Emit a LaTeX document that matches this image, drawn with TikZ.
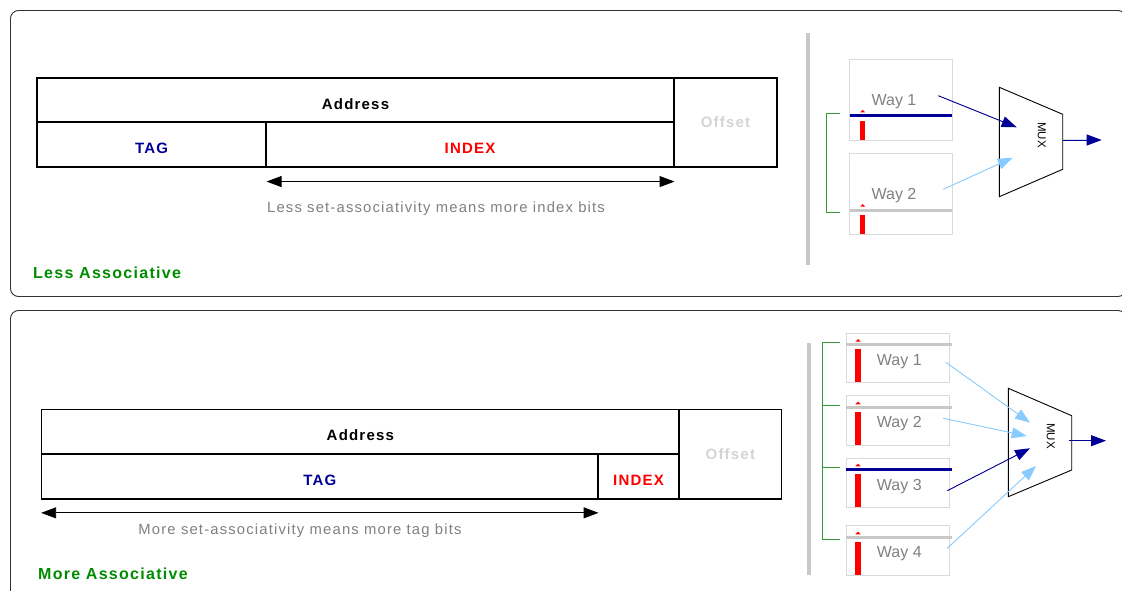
\documentclass[tikz,border=0pt]{standalone}
\usepackage{fontspec}
\setmainfont{Liberation Sans}[LetterSpace=8]
\newfontfamily\wayfont{Liberation Sans}
\usetikzlibrary{arrows.meta}
\definecolor{tagblue}{RGB}{0,0,150}
\definecolor{lightptr}{RGB}{136,204,255}
\definecolor{txtgrey}{RGB}{128,128,128}
\definecolor{offgrey}{RGB}{212,212,212}
\definecolor{sepgrey}{RGB}{200,200,200}
\definecolor{boxgrey}{RGB}{218,218,218}
\definecolor{labgreen}{RGB}{0,140,0}
\definecolor{brgreen}{RGB}{50,155,50}
\tikzset{
	frame/.style = {draw=black!80, line width=0.9pt, rounded corners=8pt},
	cell/.style = {rectangle, draw=black, line width=1.1pt, inner sep=0pt,
		text height=18.5pt, text depth=0pt,
		font=\fontsize{15}{17}\selectfont\bfseries},% champ d'adresse
	off_cell/.style = {cell, text height=, text depth=, text=offgrey},
	note/.style = {font=\fontsize{14.8}{17}\selectfont, text=txtgrey, inner sep=0pt,
		text height=10.6pt, text depth=0pt},
	assoc/.style = {anchor=west, inner sep=0pt, font=\fontsize{16}{18}\selectfont\bfseries, text=labgreen},
	span_arrow/.style = {{Triangle[length=15pt,width=11pt]}-{Triangle[length=15pt,width=11pt]}, line width=0.9pt},
	way_box/.style = {rectangle, draw=boxgrey, line width=0.9pt, minimum width=103pt, inner sep=0pt},% voie
	way_lbl/.style = {font=\wayfont\fontsize{16}{18}\selectfont, text=txtgrey, inner sep=0pt,
		text height=11.5pt, text depth=0pt},
	sep/.style = {draw=sepgrey, line width=4pt},
	brk/.style = {draw=brgreen, line width=1pt},
	hit_line/.style = {draw=tagblue, line width=3.5pt},
	miss_line/.style = {draw=sepgrey, line width=3pt},
	mux/.style = {draw=black, line width=0.9pt, line join=miter},
	mux_lbl/.style = {rotate=-90, font=\wayfont\fontsize{11.5}{13}\selectfont},
	hit_ptr/.style = {-{Triangle[length=15pt,width=11pt]}, draw=tagblue, fill=tagblue, line width=0.9pt},
	miss_ptr/.style = {-{Triangle[length=15pt,width=11pt]}, draw=lightptr, fill=lightptr, line width=0.9pt}
}
\begin{document}
\begin{tikzpicture}[x=1pt,y=-1pt]
\useasboundingbox (0,0) rectangle (1122,591);
\clip (0,0) rectangle (1122,591);

% les deux cadres
\draw[frame] (10.5,10.5) rectangle (1126,296.5);
\draw[frame] (10.5,310.5) rectangle (1126,620);

% --- moins associatif ---
\node[cell, minimum width=637pt, minimum height=44pt] (addr1) at (355.5,100) {Address};
\node[cell, minimum width=229pt, minimum height=45pt, text=tagblue] (tag1) at (151.5,144.5) {TAG};
\node[cell, minimum width=408pt, minimum height=45pt, text=red] (idx1) at (470,144.5) {INDEX};
\node[off_cell, minimum width=103pt, minimum height=89pt] (off1) at (725.5,122.5) {Offset};
\draw[span_arrow] ([yshift=-14pt]tag1.south east) -- ([yshift=-14pt]idx1.south east);
\node[note] (note1) at (436,207) {Less set-associativity means more index bits};
\node[assoc] (lbl1) at (33,273) {Less Associative};

\draw[sep] (808,33) -- (808,265);
\node[way_box, minimum height=81pt] (w1a) at (900.5,99.7) {};
\node[way_box, minimum height=81pt] (w2a) at (900.5,193.7) {};
\node[way_lbl] (w1at) at (894,100) {Way 1};
\node[way_lbl] (w2at) at (894,194) {Way 2};
\fill[red] (860,120.7) rectangle (865.3,140);
\fill[red] (860.2,112.5) -- (862.7,109.8) -- (865.2,112.5) -- cycle;
\draw[hit_line] (850,115.7) -- (951.7,115.7);
\fill[red] (860,215) rectangle (865.3,234);
\fill[red] (860.2,206.7) -- (862.7,204) -- (865.2,206.7) -- cycle;
\draw[miss_line] (850,210) -- (951.7,210);
\draw[brk] (840,113.3) -- (826.7,113.3) -- (826.7,212.3) -- (840,212.3);

\draw[mux] (999.3,87.3) -- (1062.7,114.3) -- (1062.7,169.3) -- (999.3,196.7) -- cycle;
\node[mux_lbl] (mux1) at (1041.7,135) {MUX};
\coordinate (m1a) at (1016.7,127.3);
\coordinate (m1b) at (1012.7,157.7);
\coordinate (m1out) at (1062.7,140);
\coordinate (o1) at (1101.7,140);
\draw[hit_ptr] ([shift={(21.7,-4.3)}]w1at.east) -- (m1a);
\draw[miss_ptr] ([shift={(26.7,-4.7)}]w2at.east) -- (m1b);
\draw[hit_ptr] (m1out) -- (o1);

% --- plus associatif ---
\node[cell, minimum width=637.3pt, minimum height=44.7pt] (addr2) at (360.35,431.65) {Address};
\node[cell, minimum width=556.3pt, minimum height=45pt, text=tagblue] (tag2) at (319.85,476.5) {TAG};
\node[cell, minimum width=81pt, minimum height=45pt, text=red] (idx2) at (638.5,476.5) {INDEX};
\node[off_cell, minimum width=102.7pt, minimum height=89.7pt] (off2) at (730.35,454.15) {Offset};
\draw[span_arrow] ([yshift=-13.3pt]tag2.south west) -- ([yshift=-13.3pt]tag2.south east);
\node[note] (note2) at (300,529) {More set-associativity means more tag bits};
\node[assoc] (lbl2) at (38,574) {More Associative};

\draw[sep] (809,342.7) -- (809,575);
\node[way_box, minimum height=49pt] (w1b) at (898.3,357.8) {};
\node[way_box, minimum height=49.3pt] (w2b) at (898.3,420.35) {};
\node[way_box, minimum height=49.4pt] (w3b) at (898.3,483) {};
\node[way_box, minimum height=49.3pt] (w4b) at (898.3,550.35) {};
\node[way_lbl] (w1bt) at (899.3,360) {Way 1};
\node[way_lbl] (w2bt) at (899.3,421.7) {Way 2};
\node[way_lbl] (w3bt) at (899.3,485) {Way 3};
\node[way_lbl] (w4bt) at (899.3,551.7) {Way 4};
\fill[red] (855,349.3) rectangle (861,381.7);
\fill[red] (855.3,341.7) -- (858,339) -- (860.7,341.7) -- cycle;
\draw[miss_line] (845.7,344.3) -- (951.7,344.3);
\fill[red] (855,412) rectangle (861,444.5);
\fill[red] (855.3,404.4) -- (858,401.7) -- (860.7,404.4) -- cycle;
\draw[miss_line] (845.7,407) -- (951.7,407);
\fill[red] (855,474.3) rectangle (861,507.2);
\fill[red] (855.3,466.4) -- (858,463.7) -- (860.7,466.4) -- cycle;
\draw[hit_line] (845.7,469.3) -- (951.7,469.3);
\fill[red] (855,542) rectangle (861,574.5);
\fill[red] (855.3,534.4) -- (858,531.7) -- (860.7,534.4) -- cycle;
\draw[miss_line] (845.7,537) -- (951.7,537);
\draw[brk] (840,342.7) -- (822.3,342.7) -- (822.3,539.3) -- (840,539.3);
\draw[brk] (822.3,405) -- (840,405);
\draw[brk] (822.3,467.3) -- (840,467.3);

\draw[mux] (1008.3,388.3) -- (1071.7,415.7) -- (1071.7,470) -- (1008.3,496.7) -- cycle;
\node[mux_lbl] (mux2) at (1050.7,436) {MUX};
\coordinate (m2a) at (1030,422.7);
\coordinate (m2b) at (1026.7,436);
\coordinate (m2c) at (1030,448.3);
\coordinate (m2d) at (1036,466);
\coordinate (m2out) at (1069.3,440.7);
\coordinate (o2) at (1106,440.7);
\draw[miss_ptr] ([shift={(24,2.3)}]w1bt.east) -- (m2a);
\draw[miss_ptr] ([shift={(21.4,-3.4)}]w2bt.east) -- (m2b);
\draw[hit_ptr] ([shift={(25.4,5.7)}]w3bt.east) -- (m2c);
\draw[miss_ptr] ([shift={(25.4,-3.4)}]w4bt.east) -- (m2d);
\draw[hit_ptr] (m2out) -- (o2);
\end{tikzpicture}
\end{document}
